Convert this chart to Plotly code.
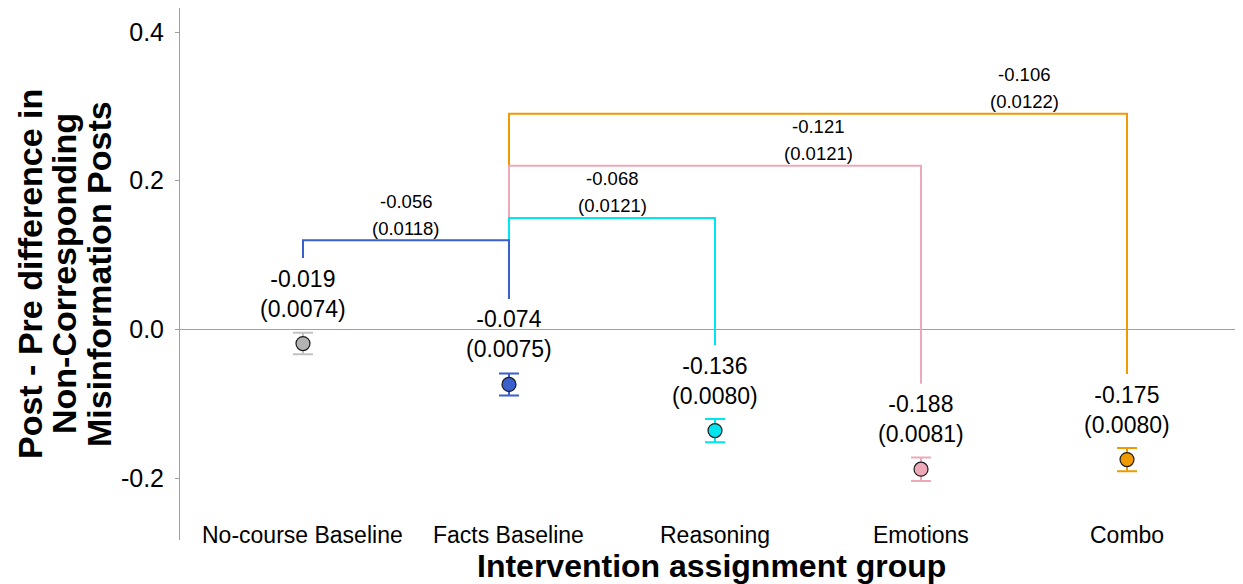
import plotly.graph_objects as go

# ---- data ----
groups = ["No-course Baseline", "Facts Baseline", "Reasoning", "Emotions", "Combo"]
estimates = [-0.019, -0.074, -0.136, -0.188, -0.175]
std_errors = [0.0074, 0.0075, 0.0080, 0.0081, 0.0080]
fill_colors = ["#b3b3b3", "#3a5fcd", "#00e5ee", "#eea9b8", "#ee9a00"]
bar_colors = ["#c2c2c2", "#3a5fcd", "#00e5ee", "#eea9b8", "#ee9a00"]

comp_from = [0, 1, 1, 1]
comp_to = [1, 2, 3, 4]
comp_diff = [-0.056, -0.068, -0.121, -0.106]
comp_se = [0.0118, 0.0121, 0.0121, 0.0122]
comp_level = [0.12, 0.15, 0.22, 0.29]

y_ticks = [0.4, 0.2, 0.0, -0.2]
y_title_lines = ["Post - Pre difference in", "Non-Corresponding", "Misinformation Posts"]
x_title = "Intervention assignment group"

FONT = "Liberation Sans, Arial, sans-serif"
label_gap = 0.115  # bracket legs stop above the value labels

fig = go.Figure()

# brackets (drawn widest first so narrower ones sit on top)
order = sorted(range(len(comp_to)), key=lambda k: -comp_level[k])
for k in order:
    a, b = comp_from[k], comp_to[k]
    fig.add_trace(go.Scatter(
        x=[a, a, b, b],
        y=[estimates[a] + label_gap, comp_level[k], comp_level[k], estimates[b] + label_gap],
        mode="lines", line=dict(color=fill_colors[b], width=2),
        hoverinfo="skip", showlegend=False))

# points with error bars
for i, g in enumerate(groups):
    fig.add_trace(go.Scatter(
        x=[i], y=[estimates[i]], mode="markers",
        marker=dict(size=14, color=fill_colors[i], line=dict(color="#1a1a1a", width=1.2)),
        error_y=dict(type="data", array=[1.96 * std_errors[i]], color=bar_colors[i],
                     thickness=2, width=10),
        showlegend=False, name=g))

annotations = []
# value labels above points
for i in range(len(groups)):
    annotations.append(dict(
        x=i, y=estimates[i], xref="x", yref="y",
        text=f"{estimates[i]:.3f}<br>({std_errors[i]:.4f})",
        showarrow=False, yanchor="middle", yshift=50,
        font=dict(family=FONT, size=23, color="#000")))

# bracket labels
for k in range(len(comp_to)):
    xm = comp_to[k] - 0.5
    annotations.append(dict(x=xm, y=comp_level[k], xref="x", yref="y",
                            text=f"{comp_diff[k]:.3f}", showarrow=False,
                            yanchor="middle", yshift=39,
                            font=dict(family=FONT, size=18.5, color="#000")))
    annotations.append(dict(x=xm, y=comp_level[k], xref="x", yref="y",
                            text=f"({comp_se[k]:.4f})", showarrow=False,
                            yanchor="middle", yshift=12,
                            font=dict(family=FONT, size=18.5, color="#000")))

# category labels
for i, g in enumerate(groups):
    annotations.append(dict(x=i, y=0.0094, xref="x", yref="paper", text=g,
                            showarrow=False, yanchor="middle",
                            font=dict(family=FONT, size=23, color="#000")))

# x title
annotations.append(dict(x=0.5, y=-0.049, xref="paper", yref="paper", text=f"<b>{x_title}</b>",
                        showarrow=False, yanchor="middle", xanchor="center",
                        font=dict(family=FONT, size=32, color="#000")))

# y title lines (positions in window pixels, relative to plot left edge at 180)
line_px = [30, 64, 99]
for t, px in zip(y_title_lines, line_px):
    annotations.append(dict(x=(px - 180) / 1063, y=0.5, xref="paper", yref="paper",
                            text=f"<b>{t}</b>", showarrow=False, textangle=-90,
                            xanchor="center", yanchor="middle", borderpad=0,
                            font=dict(family=FONT, size=34, color="#000")))

# page body has an 8px default margin: compensate so the plot lands where the reference has it
fig.update_layout(
    width=1235, height=576,
    margin=dict(l=172, r=0, t=0, b=44),
    paper_bgcolor="white", plot_bgcolor="white",
    annotations=annotations,
    xaxis=dict(range=[-0.597, 4.563], showgrid=False, zeroline=False,
               showticklabels=False, showline=False, ticks=""),
    yaxis=dict(range=[-0.2832, 0.4323], showgrid=False,
               zeroline=True, zerolinecolor="#a0a0a0", zerolinewidth=1,
               showline=True, linecolor="#a0a0a0", linewidth=1,
               ticks="outside", ticklen=4, tickcolor="#a0a0a0",
               ticklabelstandoff=6,
               tickvals=y_ticks, ticktext=[f"{v:.1f}" for v in y_ticks],
               tickfont=dict(family=FONT, size=25, color="#000")),
)

fig.write_html("out.html")
